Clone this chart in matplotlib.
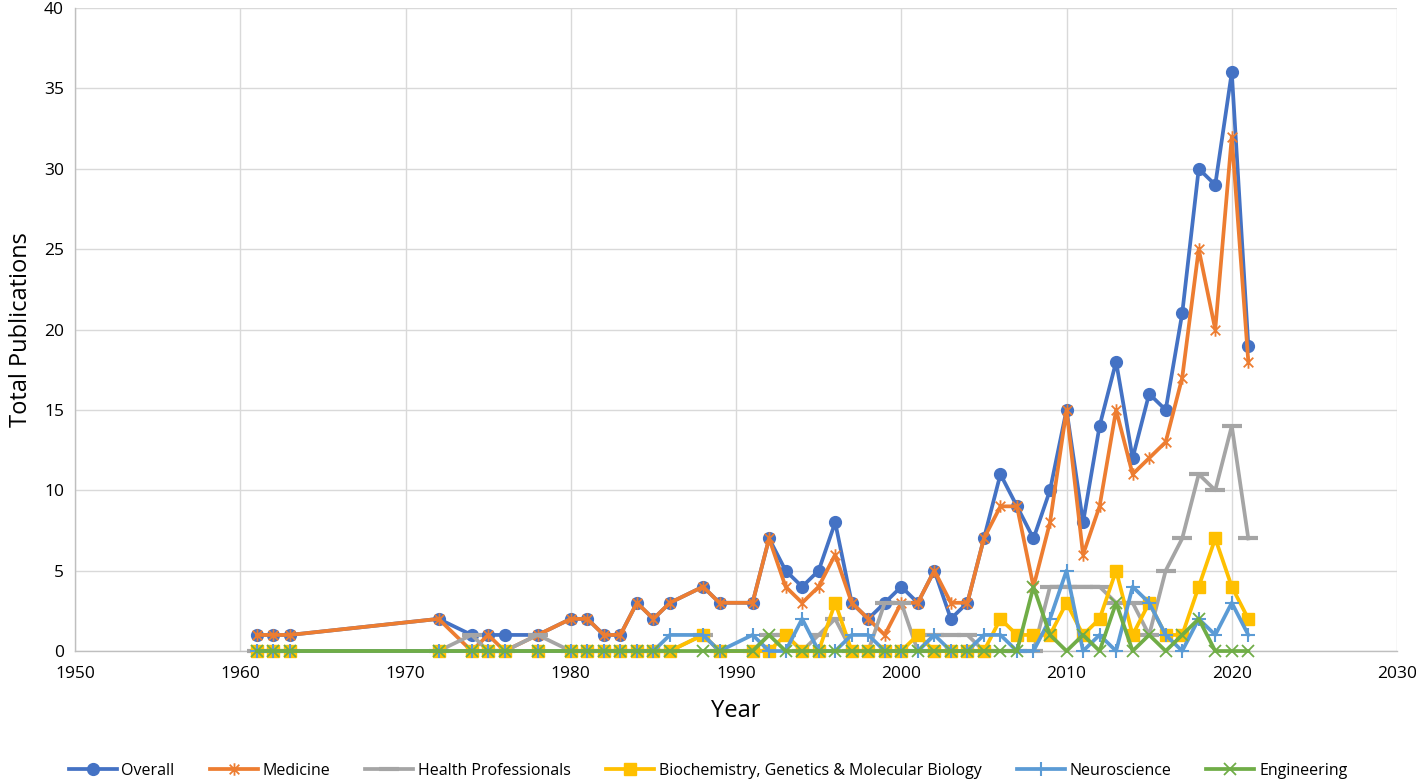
import matplotlib
matplotlib.use("Agg")
import matplotlib.pyplot as plt
from matplotlib.path import Path

years = [1961, 1962, 1963, 1972, 1974, 1975, 1976, 1978, 1980, 1981, 1982, 1983,
         1984, 1985, 1986, 1988, 1989,
         1991, 1992, 1993, 1994, 1995, 1996, 1997, 1998, 1999, 2000,
         2001, 2002, 2003, 2004, 2005, 2006, 2007, 2008, 2009, 2010,
         2011, 2012, 2013, 2014, 2015, 2016, 2017, 2018, 2019, 2020,
         2021]

overall = [1, 1, 1, 2, 1, 1, 1, 1, 2, 2, 1, 1, 3, 2, 3, 4, 3,
           3, 7, 5, 4, 5, 8, 3, 2, 3, 4,
           3, 5, 2, 3, 7, 11, 9, 7, 10, 15,
           8, 14, 18, 12, 16, 15, 21, 30, 29, 36,
           19]
medicine = [1, 1, 1, 2, 0, 1, 0, 1, 2, 2, 1, 1, 3, 2, 3, 4, 3,
            3, 7, 4, 3, 4, 6, 3, 2, 1, 3,
            3, 5, 3, 3, 7, 9, 9, 4, 8, 15,
            6, 9, 15, 11, 12, 13, 17, 25, 20, 32,
            18]
health = [0, 0, 0, 0, 1, 0, 0, 1, 0, 0, 0, 0, 0, 0, 0, 1, 0,
          0, 1, 1, 0, 1, 2, 0, 0, 3, 3,
          0, 1, 1, 1, 0, 0, 0, 0, 4, 4,
          4, 4, 3, 3, 1, 5, 7, 11, 10, 14,
          7]
biochem = [0, 0, 0, 0, 0, 0, 0, 0, 0, 0, 0, 0, 0, 0, 0, 1, 0,
           0, 0, 1, 0, 0, 3, 0, 0, 0, 0,
           1, 0, 0, 0, 0, 2, 1, 1, 1, 3,
           1, 2, 5, 1, 3, 1, 1, 4, 7, 4,
           2]
neuro = [0, 0, 0, 0, 0, 0, 0, 0, 0, 0, 0, 0, 0, 0, 1, 1, 0,
         1, 0, 0, 2, 0, 0, 1, 1, 0, 0,
         0, 1, 0, 0, 1, 1, 0, 0, 2, 5,
         0, 1, 0, 4, 3, 1, 0, 2, 1, 3,
         1]
engineering = [0, 0, 0, 0, 0, 0, 0, 0, 0, 0, 0, 0, 0, 0, 0, 0, 0,
               0, 1, 0, 0, 0, 0, 0, 0, 0, 0,
               0, 0, 0, 0, 0, 0, 0, 4, 1, 0,
               1, 0, 3, 0, 1, 0, 1, 2, 0, 0,
               0]

labels = ["Overall", "Medicine", "Health Professionals",
          "Biochemistry, Genetics & Molecular Biology", "Neuroscience", "Engineering"]
colors = ["#4472C4", "#ED7D31", "#A5A5A5", "#FFC000", "#5B9BD5", "#70AD47"]

# Excel-style star marker: x with a vertical bar
star = Path([(-1, -1), (1, 1), (-1, 1), (1, -1), (0, -1.3), (0, 1.3)],
            [Path.MOVETO, Path.LINETO, Path.MOVETO, Path.LINETO, Path.MOVETO, Path.LINETO])

plt.rcParams['font.family'] = ['Open Sans', 'DejaVu Sans']

fig = plt.figure(figsize=(14.16, 7.79), dpi=100)
ax = fig.add_axes([0.053, 0.1643, 0.9336, 0.8254])

lw = 2.7
styles = [
    dict(marker='o', markersize=8.5, markerfacecolor=colors[0], markeredgecolor=colors[0]),
    dict(marker=star, markersize=9, markeredgewidth=1.3, markerfacecolor='none', markeredgecolor=colors[1]),
    dict(marker='_', markersize=14, markeredgewidth=3, markeredgecolor=colors[2]),
    dict(marker='s', markersize=8, markerfacecolor=colors[3], markeredgecolor=colors[3]),
    dict(marker='+', markersize=10, markeredgewidth=1.5, markeredgecolor=colors[4]),
    dict(marker='x', markersize=8, markeredgewidth=1.3, markeredgecolor=colors[5]),
]
series = [overall, medicine, health, biochem, neuro, engineering]
for i, (vals, lab, col, st) in enumerate(zip(series, labels, colors, styles)):
    ax.plot(years, vals, color=col, linewidth=lw, label=lab, zorder=3 + i,
            clip_on=False, **st)

ax.set_xlim(1950, 2030)
ax.set_ylim(0, 40)
ax.set_xticks(range(1950, 2031, 10))
ax.set_yticks(range(0, 41, 5))
ax.grid(True, color='#D9D9D9', linewidth=1.0, zorder=0)
ax.set_axisbelow(True)
for s in ['top', 'right']:
    ax.spines[s].set_visible(False)
for s in ['left', 'bottom']:
    ax.spines[s].set_color('#BFBFBF')
    ax.spines[s].set_linewidth(1.0)
ax.tick_params(axis='x', length=0, labelsize=12.5, colors='#000000', pad=11)
ax.tick_params(axis='y', length=0, labelsize=12.5, colors='#000000', pad=8)
ax.set_xlabel("Year", fontsize=17, labelpad=12)
ax.set_ylabel("Total Publications", fontsize=17, labelpad=8)

fig.legend(loc='lower center', bbox_to_anchor=(0.5, -0.018), ncol=6, frameon=False,
           fontsize=11.5, handlelength=3.0, columnspacing=2.2, handletextpad=0.3)

fig.savefig("out.png", dpi=100)
